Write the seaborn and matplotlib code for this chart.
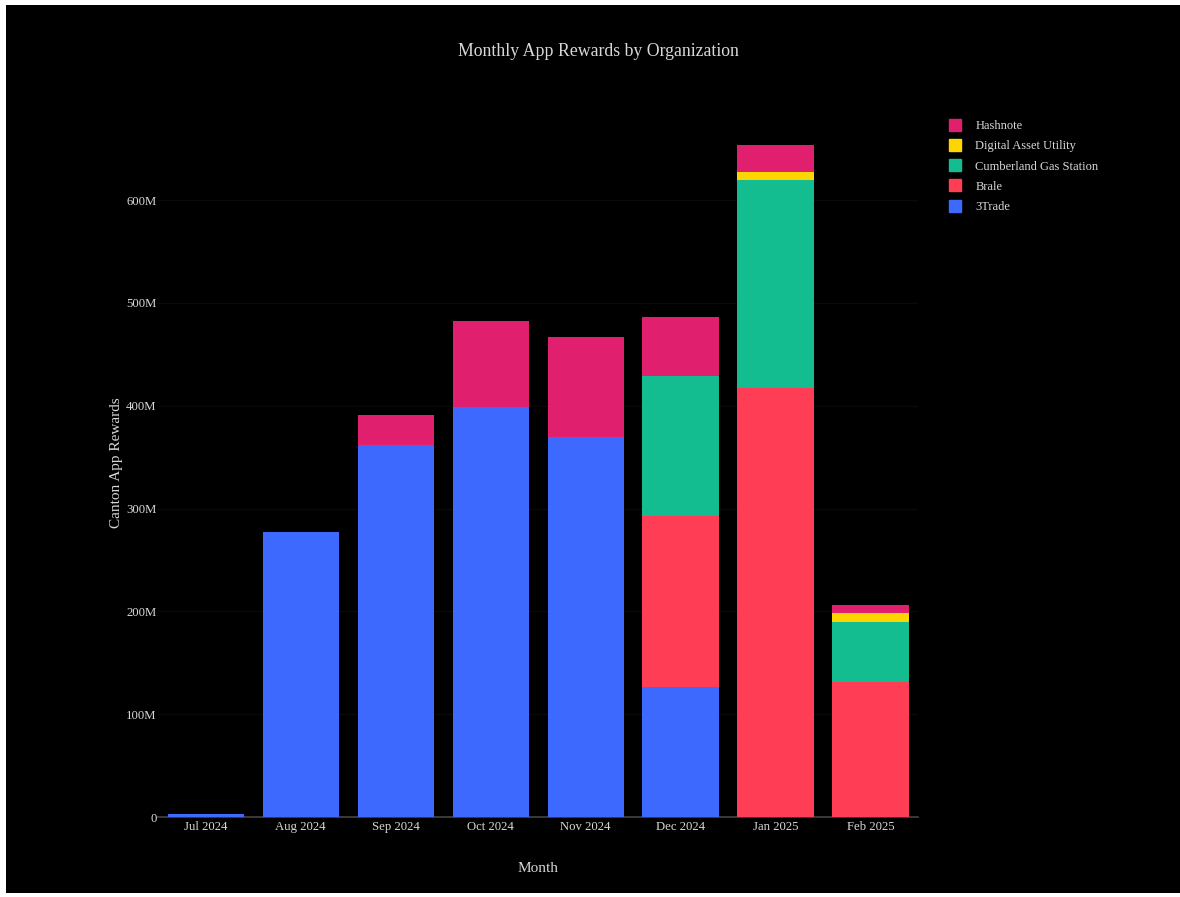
import numpy as np
import pandas as pd
import matplotlib
matplotlib.use("Agg")
import matplotlib.pyplot as plt
from matplotlib.patches import Rectangle
from matplotlib.lines import Line2D
from matplotlib.ticker import FuncFormatter
import seaborn as sns

months = ["Jul 2024", "Aug 2024", "Sep 2024", "Oct 2024", "Nov 2024",
          "Dec 2024", "Jan 2025", "Feb 2025"]
# values in millions (stack order bottom -> top)
trade3 = [3, 277, 362, 399, 370, 126, 0, 0]
brale = [0, 0, 0, 0, 0, 167, 417, 131]
cumberland = [0, 0, 0, 0, 0, 136, 202, 59]
dau = [0, 0, 0, 0, 0, 0, 8, 8]
hashnote = [0, 0, 29, 83, 97, 57, 27, 8]

series_names = ["3Trade", "Brale", "Cumberland Gas Station", "Digital Asset Utility", "Hashnote"]
series_vals = [trade3, brale, cumberland, dau, hashnote]
colors = {"3Trade": "#3D69FF", "Brale": "#FF3E55", "Cumberland Gas Station": "#13BD8F",
          "Digital Asset Utility": "#FFD500", "Hashnote": "#E0206E"}

sns.set_theme(style="dark")
plt.rcParams['font.family'] = ['Liberation Serif', 'DejaVu Serif']
txt = "#d8d8d8"

fig = plt.figure(figsize=(11.8, 8.97), dpi=100, facecolor="white")
fig.patches.append(Rectangle((6 / 1180, 0.004), 1 - 6 / 1180, 1 - 0.004 - 5 / 897,
                             transform=fig.transFigure, facecolor="black",
                             edgecolor="none", zorder=-10))
ax = fig.add_axes([158 / 1180, 80 / 897, 760 / 1180, 709 / 897])
ax.set_facecolor("black")

cum = np.cumsum(np.array(series_vals, dtype=float), axis=0) * 1e6
# draw from top of stack downward so that lower segments overlay upper ones
for i in range(len(series_names) - 1, -1, -1):
    df = pd.DataFrame({"Month": months, "v": cum[i]})
    sns.barplot(data=df, x="Month", y="v", color=colors[series_names[i]],
                saturation=1, width=0.8, ax=ax, linewidth=0, zorder=3)

ax.set_xlim(-0.5, 7.5)
ax.set_ylim(0, 689.5e6)
ax.set_yticks(np.arange(0, 700e6, 100e6))
ax.yaxis.set_major_formatter(FuncFormatter(lambda v, p: "0" if v == 0 else f"{int(round(v / 1e6))}M"))
ax.grid(axis="y", color="#0a0a0a", linewidth=1, zorder=0)
ax.grid(axis="x", visible=False)
for s in ["top", "right", "left"]:
    ax.spines[s].set_visible(False)
ax.spines["bottom"].set_color("#444444")
ax.spines["bottom"].set_linewidth(1.2)
ax.tick_params(axis="both", colors=txt, labelsize=9.2, length=0, pad=3)
ax.tick_params(axis="y", pad=1)

ax.set_xlabel("Month", color=txt, fontsize=11, labelpad=21)
ax.set_ylabel("Canton App Rewards", color=txt, fontsize=11, labelpad=2)
fig.text(598 / 1180, 1 - 52 / 897, "Monthly App Rewards by Organization",
         color=txt, fontsize=12.8, ha="center", va="center")

handles = [Line2D([0], [0], marker="s", linestyle="none", markersize=9,
                  markerfacecolor=colors[n], markeredgecolor=colors[n])
           for n in reversed(series_names)]
leg = fig.legend(handles, list(reversed(series_names)), loc="upper left",
                 bbox_to_anchor=(944 / 1180, 1 - 115 / 897), frameon=False,
                 fontsize=9, labelcolor=txt, handlelength=1.0, handletextpad=1.1,
                 labelspacing=0.66, borderaxespad=0)

fig.savefig("out.png", dpi=100, facecolor=fig.get_facecolor())
